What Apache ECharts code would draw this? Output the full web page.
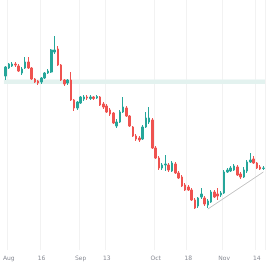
<!DOCTYPE html>
<html><head><meta charset="utf-8">
<script src="https://cdn.jsdelivr.net/npm/echarts@6/dist/echarts.min.js"></script>
<style>html,body{margin:0;padding:0;background:#fff}#c{width:266px;height:266px}</style>
</head><body><div id="c"></div>
<script>
const openV  = [174,182,184,186,184,177,182,188,182,171,169,168,172,177,178,198,201,185,170,167,170,150,142,147,151,153,151.5,153,152,153,146,144,140,137,124,128,138,142,134,123,114,112,111,123,128,130,102,92,82,85,85,79,86,77,73,65,63,60,50,44,53,52,45,48,58,56,55,57,78,79,80,83,76,73,79,88,91,87,83,81.5];
const closeV = [183,186,186,185,179,181,188,182,171,168,167,172,177,179,200,200,185,170,166,170,150,142,148,153,153,152,153,151.5,153.5,145,143,138,136,127,128,138,143,134,124,114,111,110,123,132,132,102,92,82,85,86,80,87,77,72,64,60,60,50,42,52,56,46,49,58,53,54,57,78,80,82,84,75,73,80,88,90,87,82,81,82];
const lowV   = [170,181,183,183,178,175,181,181,170,167,165,166,171,176,177,196,184,169,164,165,149,139,140,146,149,150,150,150,151,144,141,137,134,126,122,127,137,133,123,113,109,108,110,122,126,101,91,80,80,79,78,78,76,71,63,59,59,49,41,42,51,44,42,47,52,50,53,56,77,78,79,74,71,72,77,87,86,81,80,80];
const highV  = [184,187,188,188,186,183,193,193,183,172,170,173,178,181,201,214,204,186,171,171,178,151,149,154,155,155,155,154,155,154,148,146,142,138,131,140,153,144,135,124,116,114,125,138,143,132,104,94,87,95,87,89,88,79,75,67,65,62,52,53,62,54,51,60,60,62,59,80,82,84,86,85,78,83,90,97,94,88,85,84];
const tickIndex  = [1, 11, 23, 31, 46, 56, 67, 77];
const tickLabels = ['Aug', '16', 'Sep', '13', 'Oct', '18', 'Nov', '14'];
const zoneRange  = [166, 170.5];
const trendStart = [62, 41];
const trendEnd   = [79, 78];

const cats = openV.map((_, i) => String(i));
const ohlc = openV.map((o, i) => [o, closeV[i], lowV[i], highV[i]]);
const showTick = (i) => tickIndex.indexOf(i) >= 0;

const chart = echarts.init(document.getElementById('c'), null, {renderer: 'canvas'});
chart.setOption({
  animation: false,
  grid: {left: -1.5, right: 1, top: 0, bottom: 16},
  xAxis: {
    type: 'category', data: cats, boundaryGap: true,
    axisLine: {show: false}, axisTick: {show: false},
    axisLabel: {
      interval: (i) => showTick(i),
      formatter: (v, i) => { const k = tickIndex.indexOf(i); return k >= 0 ? tickLabels[k] : ''; },
      fontSize: 6, color: '#8a8d96', margin: 5, fontFamily: 'DejaVu Sans'
    },
    splitLine: {show: true, interval: (i) => showTick(i), lineStyle: {color: '#f2f2f2', width: 1}}
  },
  yAxis: {type: 'value', min: 0, max: 250, show: false, splitLine: {show: false}},
  series: [{
    type: 'candlestick',
    data: ohlc,
    barWidth: '62%',
    itemStyle: {color: '#26a69a', color0: '#ef5350', borderColor: '#26a69a', borderColor0: '#ef5350', borderWidth: 1},
    markArea: {silent: true, itemStyle: {color: '#e3f2ef'},
      data: [[{yAxis: zoneRange[0]}, {yAxis: zoneRange[1]}]]},
    markLine: {silent: true, symbol: ['none', 'none'], label: {show: false},
      lineStyle: {color: '#c0c0c0', width: 1, type: 'solid'},
      data: [[{coord: [String(trendStart[0]), trendStart[1]]}, {coord: [String(trendEnd[0]), trendEnd[1]]}]]}
  }]
});
</script></body></html>
